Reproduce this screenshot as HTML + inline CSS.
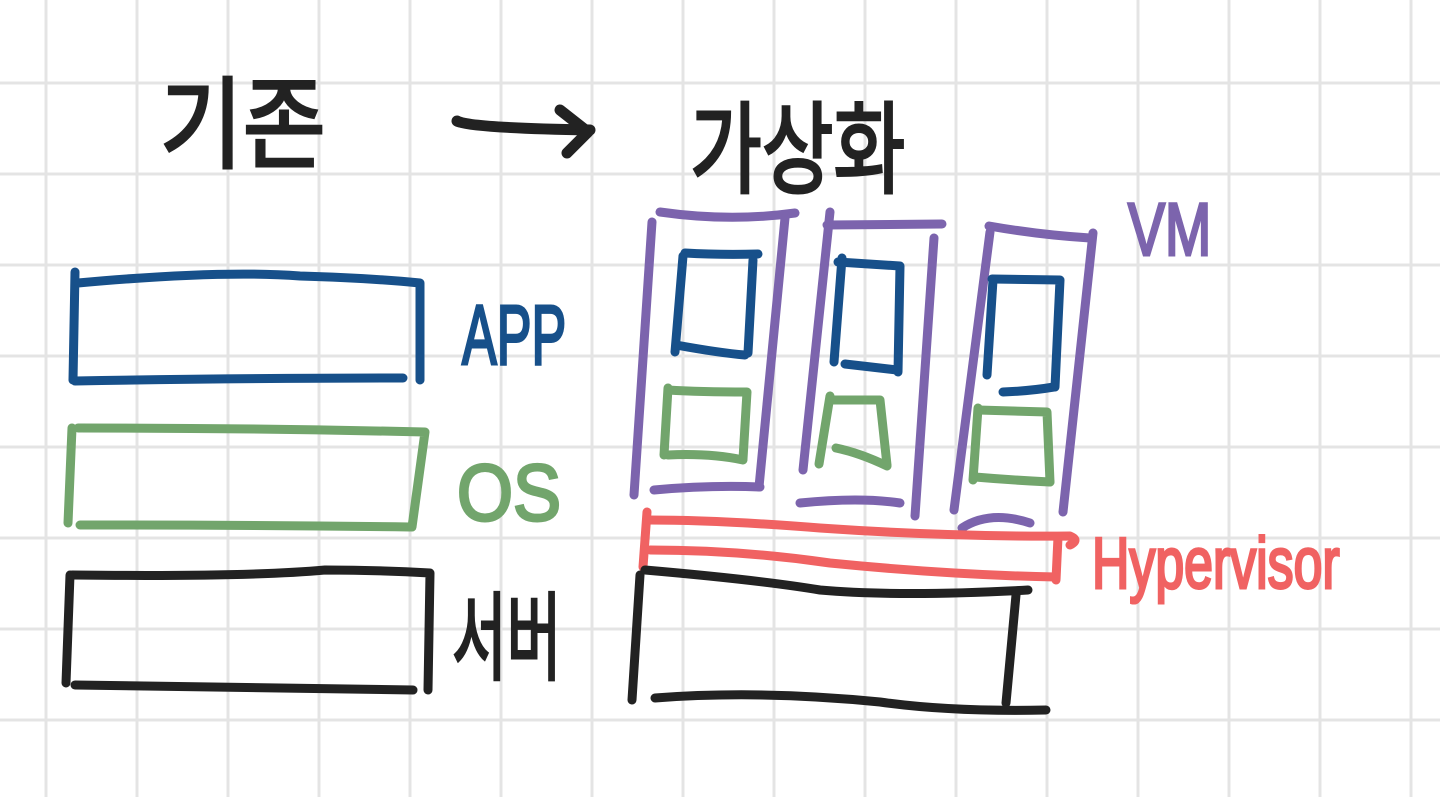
<!DOCTYPE html>
<html><head><meta charset="utf-8"><style>
html,body{margin:0;padding:0;background:#fff;width:1440px;height:797px;overflow:hidden}
svg{display:block}
text{font-family:"Liberation Sans","Noto Sans CJK KR",sans-serif}
</style></head><body>
<svg width="1440" height="797" viewBox="0 0 1440 797" xmlns="http://www.w3.org/2000/svg">
<g stroke="#e4e4e4" stroke-width="3">
<line x1="46" y1="0" x2="46" y2="797"/><line x1="137" y1="0" x2="137" y2="797"/><line x1="228" y1="0" x2="228" y2="797"/><line x1="319" y1="0" x2="319" y2="797"/><line x1="410" y1="0" x2="410" y2="797"/><line x1="501" y1="0" x2="501" y2="797"/><line x1="592" y1="0" x2="592" y2="797"/><line x1="683" y1="0" x2="683" y2="797"/><line x1="774" y1="0" x2="774" y2="797"/><line x1="865" y1="0" x2="865" y2="797"/><line x1="956" y1="0" x2="956" y2="797"/><line x1="1047" y1="0" x2="1047" y2="797"/><line x1="1138" y1="0" x2="1138" y2="797"/><line x1="1229" y1="0" x2="1229" y2="797"/><line x1="1320" y1="0" x2="1320" y2="797"/><line x1="1411" y1="0" x2="1411" y2="797"/>
<line x1="0" y1="83" x2="1440" y2="83"/><line x1="0" y1="174" x2="1440" y2="174"/><line x1="0" y1="265" x2="1440" y2="265"/><line x1="0" y1="356" x2="1440" y2="356"/><line x1="0" y1="447" x2="1440" y2="447"/><line x1="0" y1="538" x2="1440" y2="538"/><line x1="0" y1="629" x2="1440" y2="629"/><line x1="0" y1="720" x2="1440" y2="720"/>
</g>
<g fill="none" stroke-linecap="round" stroke-linejoin="round" stroke-width="9">
<g stroke="#17508a">
<path d="M75 272 L73 380"/><path d="M78 283 Q220 270 300 276 Q370 278 420 283 L420 380"/><path d="M75 381 Q250 378 403 378"/>
</g>
<g stroke="#72a56c">
<path d="M72 428 L68 523"/><path d="M78 428 Q250 428 425 432 L412 527"/><path d="M80 525 Q250 525 410 527"/>
</g>
<g stroke="#222">
<path d="M70 575 L66 683"/><path d="M72 575 Q250 577 325 570 Q380 570 430 573 L428 690"/><path d="M75 685 Q250 688 413 690"/>
</g>
<path stroke="#222" stroke-width="11" d="M457 121 Q470 128 590 130"/><path stroke="#222" stroke-width="11" d="M560 110 L588 132 L567 153"/>
<g stroke="#7c64ad">
<path d="M652 222 L634 495"/><path d="M660 212 Q730 222 795 213"/><path d="M785 218 L759 487"/><path d="M654 490 Q710 485 760 487"/>
<path d="M830 212 L803 470"/><path d="M827 225 L942 224"/><path d="M934 238 L915 516"/><path d="M800 503 Q860 497 900 503"/>
<path d="M990 232 L954 510"/><path d="M989 226 Q1040 235 1090 238"/><path d="M1093 233 L1063 512"/><path d="M962 528 Q990 510 1030 523"/>
</g>
<g stroke="#17508a">
<path d="M683 256 L675 352"/><path d="M685 253 Q720 255 758 254"/><path d="M753 260 L748 353"/><path d="M676 345 Q720 353 745 355"/>
<path d="M842 258 L834 362"/><path d="M838 262 L900 266 L898 372"/><path d="M845 364 L897 370"/>
<path d="M993 280 L987 375"/><path d="M992 279 L1060 280 L1055 387"/><path d="M1003 392 Q1030 391 1054 387"/>
</g>
<g stroke="#72a56c">
<path d="M668 388 L664 455"/><path d="M668 390 Q700 392 747 392 L743 459"/><path d="M668 455 Q710 453 743 460"/>
<path d="M830 396 L819 464"/><path d="M830 400 L880 400 L887 465"/><path d="M836 448 Q860 453 887 466"/>
<path d="M978 408 L973 480"/><path d="M978 410 L1047 412 L1050 482"/><path d="M975 477 Q1010 480 1050 482"/>
</g>
<g stroke="#f06262">
<path d="M647 512 L643 567"/><path d="M648 520 Q720 520 820 528 Q950 537 1070 536 Q1080 540 1070 545"/><path d="M1058 537 L1056 580"/><path d="M650 550 Q740 550 830 563 Q950 575 1056 577"/>
</g>
<g stroke="#222">
<path d="M640 575 L632 700"/><path d="M645 570 Q760 580 820 590 Q900 597 1028 590"/><path d="M1016 595 L1006 703"/><path d="M655 698 Q760 690 880 702 Q950 712 1046 710"/>
</g>
</g>
<g font-weight="normal" stroke-width="3">
<text x="160" y="160" font-size="100" fill="#222" stroke="#222" transform="translate(160,0) scale(0.9,1) translate(-160,0)">기존</text>
<text x="690" y="185" font-size="100" fill="#222" stroke="#222" transform="translate(690,0) scale(0.78,1) translate(-690,0)">가상화</text>
<text x="462" y="364" font-size="84" fill="#17508a" stroke="#17508a" transform="translate(462,0) scale(0.62,1) translate(-462,0)">APP</text>
<text x="457" y="520" font-size="80" fill="#72a56c" stroke="#72a56c" transform="translate(457,0) scale(0.9,1) translate(-457,0)">OS</text>
<text x="452" y="672" font-size="96" fill="#222" stroke="#222" transform="translate(452,0) scale(0.62,1) translate(-452,0)">서버</text>
<text x="1128" y="255" font-size="74" fill="#7c64ad" stroke="#7c64ad" transform="translate(1128,0) scale(0.75,1) translate(-1128,0)">VM</text>
<text x="1092" y="588" font-size="72" fill="#f06262" stroke="#f06262" transform="translate(1092,0) scale(0.72,1) translate(-1092,0)">Hypervisor</text>
</g>
</svg>
</body></html>
